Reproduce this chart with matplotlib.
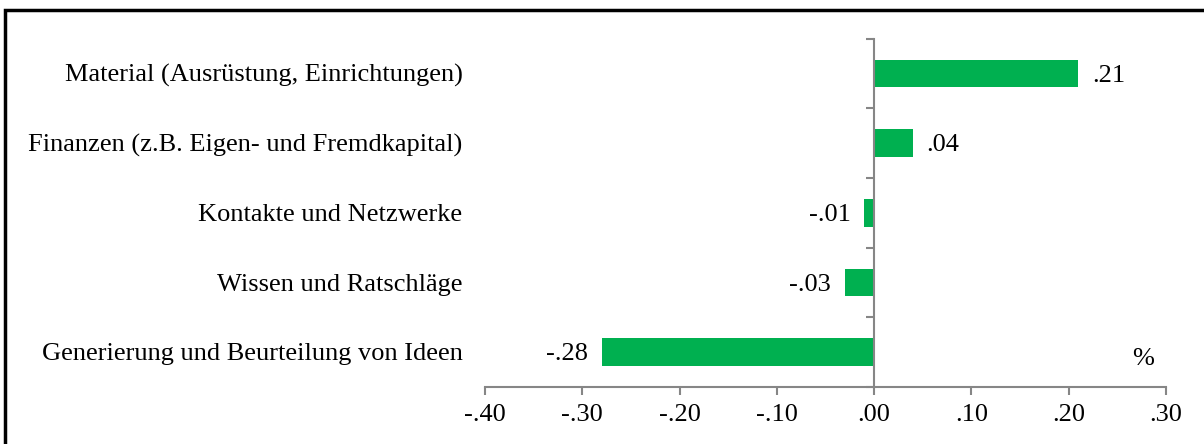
import numpy as np
import matplotlib.pyplot as plt
from matplotlib.patches import Rectangle
from matplotlib.transforms import blended_transform_factory

plt.rcParams['font.family'] = ['Liberation Serif', 'DejaVu Serif']

categories = ['Generierung und Beurteilung von Ideen', 'Wissen und Ratschläge',
              'Kontakte und Netzwerke', 'Finanzen (z.B. Eigen- und Fremdkapital)',
              'Material (Ausrüstung, Einrichtungen)']
values = [-0.28, -0.03, -0.01, 0.04, 0.21]
xticks = [-0.40, -0.30, -0.20, -0.10, 0.00, 0.10, 0.20, 0.30]

def fmt(v):
    s = '%.2f' % v
    return s.replace('0.', '.')

fs = 19

fig = plt.figure(figsize=(12.04, 4.44), dpi=100)
ax = fig.add_axes([0.4028, 0.1284, 0.5655, 0.7845])

y = np.arange(len(categories))
ax.barh(y, values, height=0.4, color='#00B050')

ax.set_xlim(-0.40, 0.30)
ax.set_ylim(-0.5, len(categories) - 0.5)

gray = '#868686'
for s in ['top', 'right']:
    ax.spines[s].set_visible(False)
ax.spines['left'].set_position(('data', 0))
ax.spines['left'].set_color(gray)
ax.spines['bottom'].set_color(gray)
ax.spines['left'].set_linewidth(1.5)
ax.spines['bottom'].set_linewidth(1.5)

ax.set_xticks(xticks)
ax.set_xticklabels([fmt(t) for t in xticks], fontsize=fs)
ax.tick_params(axis='x', colors=gray, labelcolor='black', length=6, width=1.5, pad=6)

ax.set_yticks([])
ax.set_yticks(np.arange(-0.5, len(categories), 1), minor=True)
ax.tick_params(axis='y', which='minor', colors=gray, length=6, width=1.5)
ax.tick_params(axis='y', which='major', left=False, labelleft=False)

# category names sit at the left edge of the plot area
tr = blended_transform_factory(ax.transAxes, ax.transData)
for yi, c in zip(y, categories):
    ax.text(-0.033, yi - 0.03, c, transform=tr, ha='right', va='center', fontsize=fs)

for yi, v in zip(y, values):
    if v >= 0:
        ax.text(v + 0.014, yi - 0.03, fmt(v), ha='left', va='center', fontsize=fs)
    else:
        ax.text(v - 0.014, yi - 0.03, fmt(v), ha='right', va='center', fontsize=fs)

ax.text(0.277, -0.1, '%', ha='center', va='center', fontsize=fs)

fig.patches.append(Rectangle((5 / 1204, -0.1), 1.2, 1 - 10 / 444 + 0.1,
                             transform=fig.transFigure, fill=False,
                             edgecolor='black', linewidth=2.5))

fig.savefig('out.png', dpi=100)
